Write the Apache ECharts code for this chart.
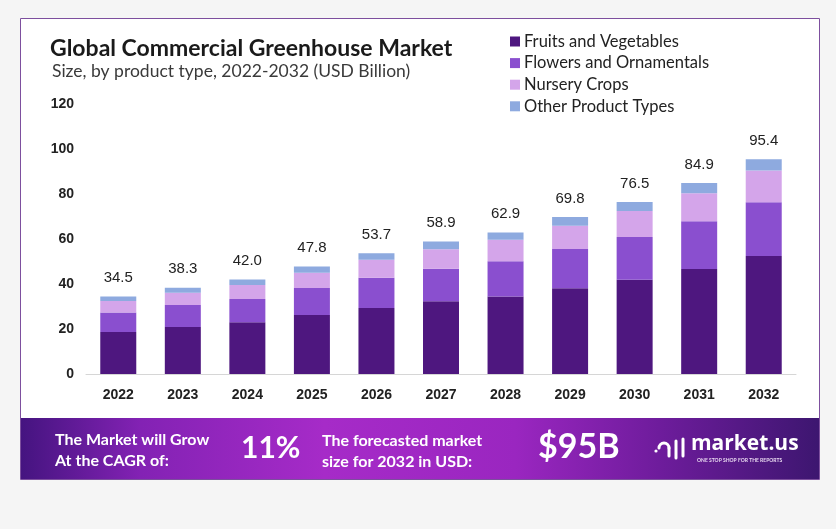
<!DOCTYPE html>
<html><head><meta charset="utf-8">
<script src="https://cdn.jsdelivr.net/npm/echarts@6/dist/echarts.min.js"></script>
<style>html,body{margin:0;padding:0;background:#f5f5f5}#c{width:836px;height:529px}</style>
</head><body><div id="c"></div>
<script>
const years = ['2022','2023','2024','2025','2026','2027','2028','2029','2030','2031','2032'];
const fruitsVeg = [18.7,20.9,23.0,26.2,29.3,32.3,34.4,38.1,41.9,46.7,52.4];
const flowersOrn = [8.6,9.8,10.3,12.0,13.5,14.5,15.7,17.5,19.0,21.2,23.9];
const nursery = [5.1,5.4,6.3,6.8,8.0,8.6,9.6,10.3,11.5,12.4,14.1];
const otherTypes = [2.1,2.2,2.4,2.8,2.9,3.5,3.2,3.9,4.1,4.6,5.0];
const totals = ['34.5','38.3','42.0','47.8','53.7','58.9','62.9','69.8','76.5','84.9','95.4'];
const seriesNames = ['Fruits and Vegetables','Flowers and Ornamentals','Nursery Crops','Other Product Types'];
const colors = ['#4e177f','#8a4fcf','#d4a5ea','#8eaadf'];

const chart = echarts.init(document.getElementById('c'), null, {renderer:'canvas'});
const dataSets = [fruitsVeg, flowersOrn, nursery, otherTypes];
const series = dataSets.map((d,i)=>({
  name: seriesNames[i], type:'bar', stack:'total', data:d, barWidth:36,
  itemStyle:{color:colors[i]},
  label: i===3 ? {show:true, position:'top', distance:11, color:'#222', fontSize:15,
    fontFamily:'Liberation Sans, Arial', formatter:p=>totals[p.dataIndex]} : {show:false}
}));

const white = '#ffffff';
chart.setOption({
  backgroundColor:'#f5f5f5',
  animation:false,
  title:[
    {text:'Global Commercial Greenhouse Market', left:45, top:32, padding:[5,5,5,5],
     textStyle:{fontFamily:'Lato', fontWeight:'bold', fontSize:23, color:'#1a1a1a'}},
    {text:'Size, by product type, 2022-2032 (USD Billion)', left:47, top:57,
     textStyle:{fontFamily:'Lato', fontWeight:'normal', fontSize:17.5, color:'#3a3a3a'}}
  ],
  legend:{orient:'vertical', left:510, top:33, padding:0, itemWidth:10, itemHeight:10, itemGap:4.6,
    icon:'rect', data:seriesNames,
    textStyle:{fontFamily:'Lato', fontSize:16.5, lineHeight:16, color:'#222', padding:[0,0,0,-1]}},
  grid:{left:86, right:40, top:104, bottom:155},
  xAxis:{type:'category', data:years,
    axisLine:{lineStyle:{color:'#d6d6d6', width:1}}, axisTick:{show:false},
    axisLabel:{margin:14, color:'#222', fontWeight:'bold', fontSize:14, fontFamily:'Liberation Sans, Arial'}},
  yAxis:{type:'value', min:0, max:120, interval:20,
    axisLine:{show:false}, axisTick:{show:false}, splitLine:{show:false},
    axisLabel:{margin:12, color:'#222', fontWeight:'bold', fontSize:14, fontFamily:'Liberation Sans, Arial'}},
  series:series,
  graphic:[
    {type:'rect', z:-10, shape:{x:20.5,y:18.5,width:799,height:461},
     style:{fill:'#ffffff', stroke:'#7d4f9e', lineWidth:1}},
    {type:'rect', z:-5, shape:{x:21,y:418,width:798,height:61},
     style:{fill:new echarts.graphic.LinearGradient(0,0,1,0,[
       {offset:0,color:'#451480'},{offset:0.15,color:'#8322b4'},{offset:0.38,color:'#a62bc8'},
       {offset:0.62,color:'#9a26c0'},{offset:0.8,color:'#6e1c9c'},{offset:1,color:'#3d1670'}])}},
    {type:'text', left:55, top:429, z:5, style:{text:'The Market will Grow\nAt the CAGR of:', fill:white,
      font:'bold 16px Lato', lineHeight:21}},
    {type:'text', left:241, top:433, z:5, style:{text:'11%', fill:white, font:'bold 30px "Liberation Sans Narrow", Lato'}},
    {type:'text', left:322, top:430, z:5, style:{text:'The forecasted market\nsize for 2032 in USD:', fill:white,
      font:'bold 16px Lato', lineHeight:21}},
    {type:'text', left:538, top:430, z:5, style:{text:'$95B', fill:white, font:'bold 34px Lato',
      shadowColor:'rgba(0,0,0,0.35)', shadowBlur:3, shadowOffsetY:1}},
    {type:'group', z:5, children:[
      {type:'arc', shape:{cx:664,cy:448,r:5,startAngle:Math.PI,endAngle:0,clockwise:true},
       style:{stroke:white, lineWidth:3, fill:null, lineCap:'round'}},
      {type:'line', shape:{x1:669,y1:448,x2:669,y2:456}, style:{stroke:white, lineWidth:3, lineCap:'round'}},
      {type:'circle', shape:{cx:656,cy:451,r:1.6}, style:{fill:white}},
      {type:'line', shape:{x1:676,y1:441,x2:676,y2:458}, style:{stroke:white, lineWidth:3, lineCap:'round'}},
      {type:'line', shape:{x1:683,y1:439,x2:683,y2:456}, style:{stroke:white, lineWidth:3, lineCap:'round'}}
    ]},
    {type:'text', left:691, top:434, z:5, style:{text:'market.us', fill:white, font:'bold 21px "Open Sans"'}},
    {type:'text', left:697, top:458, z:5, style:{text:'ONE STOP SHOP FOR THE REPORTS', fill:'#e8d8f0', font:'bold 5px Lato'}}
  ]
});
</script></body></html>
